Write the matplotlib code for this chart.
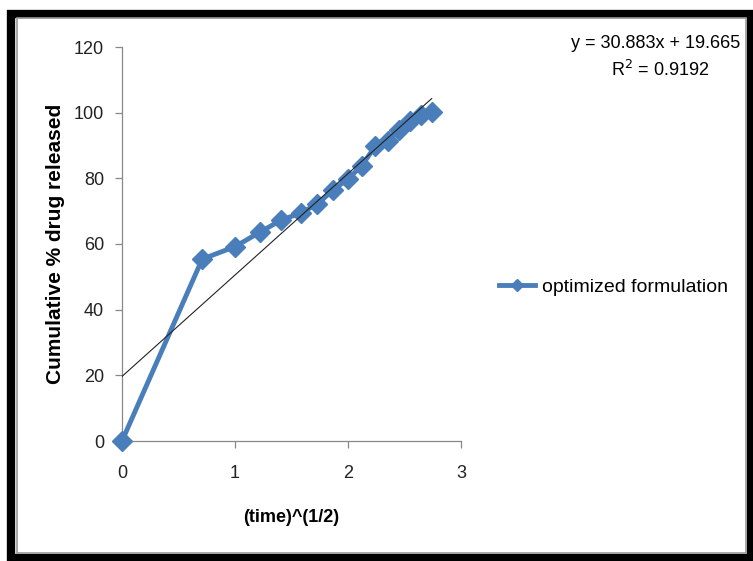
import numpy as np
import matplotlib.pyplot as plt
from matplotlib.patches import Rectangle

# (time)^(1/2) values and cumulative % drug released
sqrt_time = [0, 0.71, 1.0, 1.22, 1.41, 1.58, 1.73, 1.87, 2.0, 2.12, 2.24, 2.35, 2.45, 2.55, 2.65, 2.74]
released = [0, 55.4, 59.2, 63.6, 67.3, 69.4, 72.2, 76.5, 79.8, 83.8, 89.7, 91.4, 94.7, 97.6, 99.3, 100.1]

# linear trendline as printed on the chart
slope = 30.883
intercept = 19.665
r2 = 0.9192

plt.rcParams['font.family'] = ['Liberation Sans', 'DejaVu Sans']

fig = plt.figure(figsize=(7.53, 5.61), dpi=100)
ax = fig.add_axes([122 / 753, 1 - 441 / 561, (461 - 122) / 753, (441 - 47) / 561])

blue = '#4a7ebb'
ax.plot(sqrt_time, released, color=blue, lw=3.5, marker='D', ms=10,
        label='optimized formulation', clip_on=False, zorder=3)

xt = np.array([sqrt_time[0], sqrt_time[-1]])
ax.plot(xt, np.polyval([slope, intercept], xt), color='#222222', lw=0.8, zorder=4)

ax.set_xlim(0, 3)
ax.set_ylim(0, 120)
ax.set_xticks([0, 1, 2, 3])
ax.set_yticks(range(0, 121, 20))
for s in ['top', 'right']:
    ax.spines[s].set_visible(False)
for s in ['left', 'bottom']:
    ax.spines[s].set_color('#888888')
    ax.spines[s].set_linewidth(0.9)
ax.tick_params(colors='#888888', labelcolor='#222222', labelsize=13, length=5, width=0.9)
ax.tick_params(axis='x', pad=12)
ax.tick_params(axis='y', pad=8)

ax.set_xlabel('(time)^(1/2)', fontsize=13, fontweight='bold', labelpad=20)
ax.set_ylabel('Cumulative % drug released', fontsize=15, fontweight='bold', labelpad=6)

leg = ax.legend(loc='center left', bbox_to_anchor=(1.06, 0.39), frameon=False,
                fontsize=14, handlelength=1.85, handletextpad=0.35, markerscale=0.6)

fig.text(740 / 753, 1 - 43 / 561, 'y = 30.883x + 19.665', ha='right', va='center', fontsize=13)
fig.text(660 / 753, 1 - 70 / 561, 'R$^2$ = 0.9192', ha='center', va='center', fontsize=13)

# outer frame
fig.patches.append(Rectangle((11 / 753, 3 / 561), 740 / 753, 544 / 561, transform=fig.transFigure,
                             fill=False, ec='black', lw=6))
fig.patches.append(Rectangle((17 / 753, 8 / 561), 729 / 753, 535 / 561, transform=fig.transFigure,
                             fill=False, ec='#999999', lw=1.2))

fig.savefig('out.png', dpi=100)
